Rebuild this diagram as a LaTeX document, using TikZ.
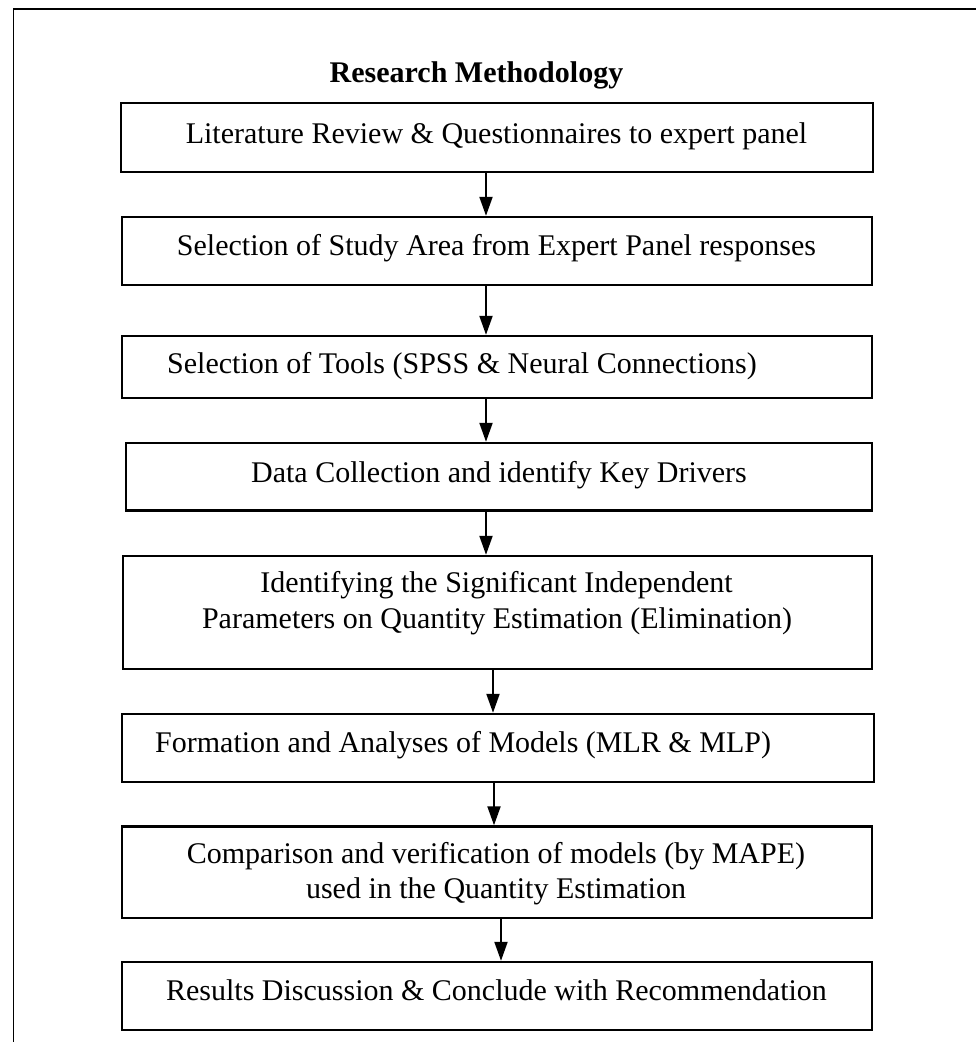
\documentclass[tikz,border=0pt]{standalone}
\usepackage{fontspec}
\setmainfont{Liberation Serif}
\usetikzlibrary{arrows.meta}
\begin{document}
\begin{tikzpicture}[x=1pt,y=-1pt,
  stepbox/.style={draw=black, line width=2.4pt, rectangle, inner sep=0pt},
  txt/.style={inner sep=0pt, font=\fontsize{30}{36}\selectfont},
  ttl/.style={inner sep=0pt, font=\fontsize{30}{36}\selectfont\bfseries},
  arr/.style={line width=2pt, -{Triangle[length=19pt,width=13pt]}}]
\useasboundingbox (0,0) rectangle (976,1042);
% outer frame (open at bottom)
\draw[line width=1.8pt] (13.5,1043) -- (13.5,9) -- (977,9);
% title
\node[ttl, anchor=base] (title) at (476.5,82) {Research Methodology};
% boxes
\node[stepbox, minimum width=752, minimum height=69] (b1) at (497,137.5) {};
\node[stepbox, minimum width=750, minimum height=68] (b2) at (497,251) {};
\node[stepbox, minimum width=750, minimum height=62] (b3) at (497,367) {};
\node[stepbox, minimum width=746, minimum height=67.5] (b4) at (499,476.75) {};
\node[stepbox, minimum width=749, minimum height=113] (b5) at (497.5,612.5) {};
\node[stepbox, minimum width=752, minimum height=68] (b6) at (498,748) {};
\node[stepbox, minimum width=750, minimum height=91.5] (b7) at (497,872.25) {};
\node[stepbox, minimum width=750, minimum height=68] (b8) at (497,996) {};
% texts
\node[txt, anchor=base] (t1) at (496.5,143) {Literature Review \& Questionnaires to expert panel};
\node[txt, anchor=base] (t2) at (496.5,255) {Selection of Study Area from Expert Panel responses};
\node[txt, anchor=base west] (t3) at (167,373) {Selection of Tools (SPSS \& Neural Connections)};
\node[txt, anchor=base] (t4) at (499,482) {Data Collection and identify Key Drivers};
\node[txt, anchor=base] (t5a) at (496.5,592) {Identifying the Significant Independent};
\node[txt, anchor=base] (t5b) at (497,628) {Parameters on Quantity Estimation (Elimination)};
\node[txt, anchor=base west] (t6) at (155,752) {Formation and Analyses of Models (MLR \& MLP)};
\node[txt, anchor=base] (t7a) at (496,863) {Comparison and verification of models (by MAPE)};
\node[txt, anchor=base] (t7b) at (496,898) {used in the Quantity Estimation};
\node[txt, anchor=base] (t8) at (496.5,1000) {Results Discussion \& Conclude with Recommendation};
% arrows
\draw[arr] ([xshift=-11pt]b1.south) -- ([xshift=-11pt]b2.north);
\draw[arr] ([xshift=-11pt]b2.south) -- ([xshift=-11pt]b3.north);
\draw[arr] ([xshift=-11pt]b3.south) -- ([xshift=-13pt]b4.north);
\draw[arr] ([xshift=-13pt]b4.south) -- ([xshift=-11.5pt]b5.north);
\draw[arr] ([xshift=-4.5pt]b5.south) -- ([xshift=-5pt]b6.north);
\draw[arr] ([xshift=-4pt]b6.south) -- ([xshift=-3pt]b7.north);
\draw[arr] ([xshift=4pt]b7.south) -- ([xshift=4pt]b8.north);
\end{tikzpicture}
\end{document}
